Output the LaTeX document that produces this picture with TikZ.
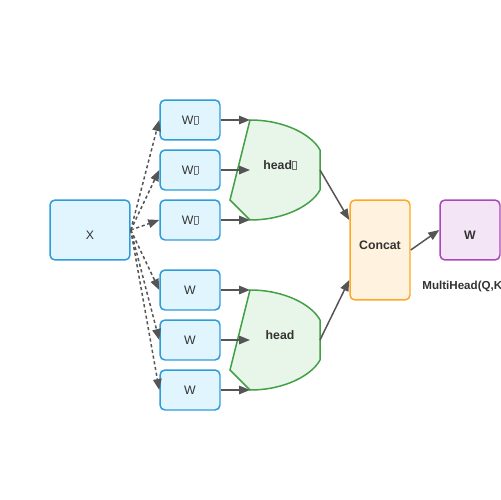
\documentclass[tikz,border=0pt]{standalone}
\usepackage{fontspec}
\setmainfont{Liberation Sans}
\usetikzlibrary{arrows.meta}
\definecolor{txt}{HTML}{333333}
\definecolor{ln}{HTML}{555555}
\definecolor{b1}{HTML}{2E9BDA}
\definecolor{f1}{HTML}{E1F5FE}
\definecolor{b2}{HTML}{43A047}
\definecolor{f2}{HTML}{E8F5E9}
\definecolor{b3}{HTML}{FFA726}
\definecolor{f3}{HTML}{FFF3E0}
\definecolor{b4}{HTML}{AB47BC}
\definecolor{f4}{HTML}{F3E5F5}
\newcommand{\tofu}{{\color{txt!70}\setlength{\fboxsep}{0pt}\setlength{\fboxrule}{0.25pt}\fbox{\rule{0pt}{0.6em}\hspace{0.3em}}}}

\begin{document}
\begin{tikzpicture}[x=0.02cm, y=-0.02cm,
    box/.style={draw, rounded corners=0.1cm, line width=0.85pt, text=txt, inner sep=0pt,
                font=\fontsize{7}{8}\selectfont},
    inbox/.style={box, draw=b1, fill=f1},
    wbox/.style={inbox, minimum width=1.2cm, minimum height=0.8cm},
    headshape/.style={draw=b2, fill=f2, line width=0.85pt, line join=miter},
    lbl/.style={text=txt, font=\fontsize{7}{8}\selectfont\bfseries},
    arr/.style={ln, line width=0.85pt, -{Triangle[length=0.22cm, width=0.17cm]}},
    dasharr/.style={arr, dash pattern=on 1.8pt off 1.5pt}]
    \useasboundingbox (0,0) rectangle (500,500);
	% input
	\node [inbox, minimum width=1.6cm, minimum height=1.2cm] (x) at (90,230) {};
	\node [lbl, font=\fontsize{7}{8}\selectfont] (xt) at (90,235) {X};
	% projections
	\node [wbox] (w1) at (190,120) {W\tofu};
	\node [wbox] (w2) at (190,170) {W\tofu};
	\node [wbox] (w3) at (190,220) {W\tofu};
	\node [wbox] (w4) at (190,290) {W};
	\node [wbox] (w5) at (190,340) {W};
	\node [wbox] (w6) at (190,390) {W};
	% heads
	\foreach \y/\n/\t in {120/h1/head\tofu, 290/h2/head} {
	    \draw [headshape] (250,\y) .. controls (285,\y) and (312,{\y+15}) .. (320,{\y+30})
	        -- (320,{\y+70}) .. controls (312,{\y+85}) and (285,{\y+100}) .. (250,{\y+100})
	        -- (230,{\y+80}) -- cycle;
	    \coordinate (\n-a) at (250,\y);
	    \coordinate (\n-b) at (250,{\y+50});
	    \coordinate (\n-c) at (250,{\y+100});
	    \coordinate (\n-o) at (320,{\y+50});
	    \node [lbl] (\n) at (280,{\y+45}) {\t};
	}
	% concat and output
	\node [box, draw=b3, fill=f3, minimum width=1.2cm, minimum height=2cm] (cc) at (380,250) {};
	\node [lbl] (cct) at (380,245) {Concat};
	\node [box, draw=b4, fill=f4, minimum width=1.2cm, minimum height=1.2cm] (out) at (470,230) {};
	\node [lbl] (outt) at (470,235) {W};
	\node [lbl, anchor=west, inner sep=0pt, font=\fontsize{6.6}{8}\selectfont\bfseries] (mh) at (422,286) {MultiHead(Q,K};
	% connectors
	\foreach \w in {w1,w2,w3,w4,w5,w6}
	    \draw [dasharr] (x.east) -- (\w.west);
	\draw [arr] (w1.east) -- (h1-a);
	\draw [arr] (w2.east) -- (h1-b);
	\draw [arr] (w3.east) -- (h1-c);
	\draw [arr] (w4.east) -- (h2-a);
	\draw [arr] (w5.east) -- (h2-b);
	\draw [arr] (w6.east) -- (h2-c);
	\draw [arr] (h1-o) -- ([yshift=0.6cm]cc.west);
	\draw [arr] (h2-o) -- ([yshift=-0.6cm]cc.west);
	\draw [arr] (cc.east) -- (out.west);
\end{tikzpicture}
\end{document}
